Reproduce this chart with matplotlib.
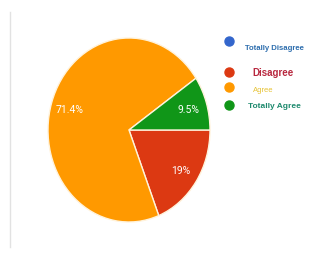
import matplotlib
matplotlib.use("Agg")
import matplotlib.pyplot as plt
from matplotlib.lines import Line2D

categories = ["Totally Disagree", "Disagree", "Agree", "Totally Agree"]
values = [0, 19.0, 71.4, 9.5]
slice_colors = ["#3366CC", "#DC3912", "#FF9900", "#109618"]
legend_text_colors = ["#2E6EAE", "#B8283F", "#E6C233", "#1E8A6E"]

W, H = 329, 255
fig = plt.figure(figsize=(W / 100, H / 100), dpi=100)
fig.patch.set_facecolor("white")

# pie axes (ellipse stretched vertically)
left, right, top, bottom = 48, 210, 39, 223
ax = fig.add_axes([left / W, 1 - bottom / H, (right - left) / W, (bottom - top) / H])

vals = [v for v in values if v > 0]
cols = [c for v, c in zip(values, slice_colors) if v > 0]
total = sum(vals)

wedges, texts, autotexts = ax.pie(
    vals, colors=cols, startangle=0, counterclock=False,
    autopct=lambda p: f"{p * total / 100:g}%", pctdistance=0.77,
    wedgeprops=dict(edgecolor="#FFF3DC", linewidth=1.0),
    textprops=dict(color="white", fontsize=7.5, family="Roboto"),
    radius=1.0,
)
ax.set_aspect("auto")
ax.set_xlim(-1, 1)
ax.set_ylim(-1, 1)
ax.axis("off")

# faint left border line
fig.add_artist(Line2D([10 / W, 10 / W], [1 - 13 / H, 1 - 248 / H],
                      color="#E2E2E2", linewidth=1.0))

# custom legend
marker_y = [42, 73, 88, 106]
text_y = [48, 73, 90, 107]
text_x = [245, 252, 253, 248]
fonts = [
    dict(family="Liberation Sans", fontsize=5.6, fontweight="bold"),
    dict(family="Liberation Sans", fontsize=7, fontweight="bold"),
    dict(family="Liberation Sans", fontsize=5.5),
    dict(family="Liberation Sans", fontsize=6, fontweight="bold"),
]
for cat, mc, tc, my, ty, tx, fp in zip(categories, slice_colors, legend_text_colors,
                                       marker_y, text_y, text_x, fonts):
    fig.add_artist(Line2D([229 / W], [1 - my / H], marker="o", markersize=6.5,
                          color=mc, linestyle="none"))
    fig.text(tx / W, 1 - ty / H, cat, color=tc, va="center", ha="left", **fp)

fig.savefig("out.png", dpi=100, facecolor="white")
